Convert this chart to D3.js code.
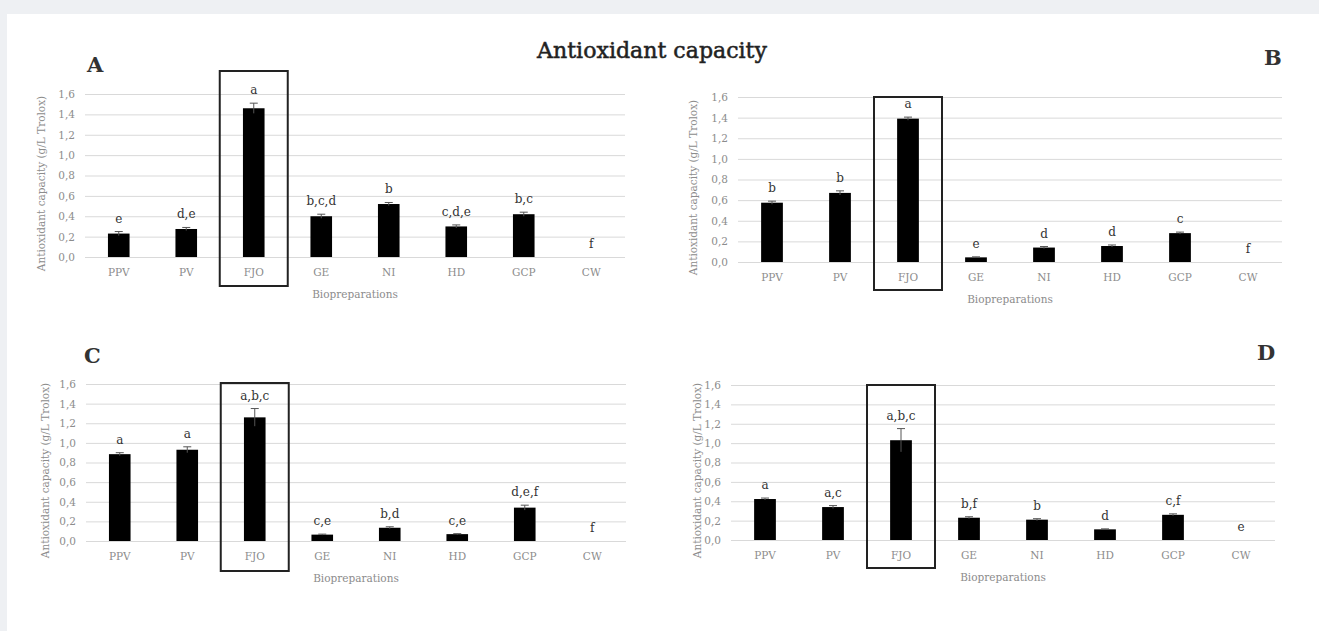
<!DOCTYPE html>
<meta charset="utf-8">
<style>
  body { margin: 0; background: #eef0f3; }
  svg { display: block; }
  text { font-family: "DejaVu Serif", serif; }
  .grid line { stroke: #d9d9d9; }
  .tick text { fill: #8c8c8c; font-size: 10.5px; }
  .ytitle, .xtitle { fill: #8c8c8c; font-size: 10.5px; }
  .sig { fill: #333; font-size: 12px; }
  .plabel { fill: #333; font-size: 21px; font-weight: bold; }
</style>
<body></body>
<script src="https://cdnjs.cloudflare.com/ajax/libs/d3/7.8.5/d3.min.js"></script>
<script>

// data
const categories = ["PPV", "PV", "FJO", "GE", "NI", "HD", "GCP", "CW"];
const yTicks = [0, 0.2, 0.4, 0.6, 0.8, 1.0, 1.2, 1.4, 1.6];

const valuesA = [0.23, 0.275, 1.46, 0.40, 0.52, 0.30, 0.42, 0];
const errA    = [0.02, 0.015, 0.05, 0.02, 0.015, 0.015, 0.02, 0];
const lettersA = ["e", "d,e", "a", "b,c,d", "b", "c,d,e", "b,c", "f"];

const valuesB = [0.575, 0.67, 1.39, 0.045, 0.14, 0.155, 0.28, 0];
const errB    = [0.015, 0.02, 0.015, 0.005, 0.01, 0.01, 0.01, 0];
const lettersB = ["b", "b", "a", "e", "d", "d", "c", "f"];

const valuesC = [0.885, 0.93, 1.26, 0.065, 0.135, 0.07, 0.34, 0];
const errC    = [0.015, 0.03, 0.09, 0.005, 0.01, 0.005, 0.025, 0];
const lettersC = ["a", "a", "a,b,c", "c,e", "b,d", "c,e", "d,e,f", "f"];

const valuesD = [0.423, 0.34, 1.03, 0.23, 0.21, 0.11, 0.26, 0];
const errD    = [0.01, 0.015, 0.12, 0.01, 0.01, 0.005, 0.01, 0];
const lettersD = ["a", "a,c", "a,b,c", "b,f", "b", "d", "c,f", "e"];

const highlighted = "FJO";

const W = 1319, H = 631;

var svg = d3.select("body").append("svg")
    .attr("width", W)
    .attr("height", H);

svg.append("rect")
    .attr("x", 7).attr("y", 14)
    .attr("width", W - 7).attr("height", H - 14)
    .attr("fill", "#fff");

var title = svg.append("text")
    .attr("x", 652).attr("y", 58)
    .attr("text-anchor", "middle")
    .attr("fill", "#222")
    .attr("stroke", "#222")
    .attr("stroke-width", 0.5)
    .style("font-size", "19px")
    .text("Antioxidant capacity");
// fit the title to the width it has in the figure
var tl = title.node().getComputedTextLength();
title.style("font-size", (19 * 230 / tl) + "px");

var comma = d3.formatLocale({decimal: ",", thousands: ".", grouping: [3], currency: ["", ""]}).format(".1f");

// panel placement
var panels = [
  {name: "A", values: valuesA, err: errA, letters: lettersA,
   x0: 85, x1: 625, y0: 257, y1: 94, boxTop: 71, boxBot: 286,
   lx: 87, ly: 72, ytx: 41},
  {name: "B", values: valuesB, err: errB, letters: lettersB,
   x0: 738, x1: 1282, y0: 262, y1: 97, boxTop: 97, boxBot: 290,
   lx: 1264, ly: 65, ytx: 693},
  {name: "C", values: valuesC, err: errC, letters: lettersC,
   x0: 86, x1: 626, y0: 541, y1: 384, boxTop: 383, boxBot: 571,
   lx: 84, ly: 363, ytx: 45},
  {name: "D", values: valuesD, err: errD, letters: lettersD,
   x0: 731, x1: 1275, y0: 540, y1: 385, boxTop: 385, boxBot: 568,
   lx: 1257, ly: 360, ytx: 697}
];

panels.forEach(function(p) {
  var g = svg.append("g");

  var x = d3.scaleBand()
      .domain(categories)
      .range([p.x0, p.x1])
      .paddingInner(0.68)
      .paddingOuter(0.34);

  var y = d3.scaleLinear()
      .domain([0, 1.6])
      .range([p.y0, p.y1]);

  // gridlines + y labels
  var ya = g.append("g")
      .attr("class", "grid")
      .attr("transform", "translate(" + p.x0 + ",0)")
      .call(d3.axisLeft(y)
          .tickValues(yTicks)
          .tickFormat(comma)
          .tickSize(-(p.x1 - p.x0))
          .tickPadding(10));
  ya.select(".domain").remove();

  // category labels
  var xa = g.append("g")
      .attr("transform", "translate(0," + p.y0 + ")")
      .call(d3.axisBottom(x).tickSize(0).tickPadding(12));
  xa.select(".domain").remove();

  // bars
  g.selectAll(".bar")
    .data(categories)
    .enter().append("rect")
      .attr("x", d => x(d))
      .attr("width", x.bandwidth())
      .attr("y", (d, i) => y(p.values[i]))
      .attr("height", (d, i) => p.y0 - y(p.values[i]))
      .attr("fill", "#000");

  // error bars
  var eb = g.selectAll(".err")
    .data(categories.filter((d, i) => p.err[i] > 0))
    .enter().append("g")
      .attr("stroke", "#555")
      .attr("stroke-width", 1);
  eb.append("line")
      .attr("x1", d => x(d) + x.bandwidth() / 2)
      .attr("x2", d => x(d) + x.bandwidth() / 2)
      .attr("y1", d => { var i = categories.indexOf(d); return y(p.values[i] - p.err[i]); })
      .attr("y2", d => { var i = categories.indexOf(d); return y(p.values[i] + p.err[i]); });
  eb.append("line")
      .attr("x1", d => x(d) + x.bandwidth() / 2 - 4)
      .attr("x2", d => x(d) + x.bandwidth() / 2 + 4)
      .attr("y1", d => { var i = categories.indexOf(d); return y(p.values[i] + p.err[i]); })
      .attr("y2", d => { var i = categories.indexOf(d); return y(p.values[i] + p.err[i]); });

  // significance letters
  g.selectAll(".sig")
    .data(categories)
    .enter().append("text")
      .attr("class", "sig")
      .attr("text-anchor", "middle")
      .attr("x", d => x(d) + x.bandwidth() / 2)
      .attr("y", (d, i) => y(p.values[i] + p.err[i]) - 9)
      .text((d, i) => p.letters[i]);

  // box around highlighted preparation
  g.append("rect")
      .attr("x", x(highlighted) + x.bandwidth() / 2 - 34)
      .attr("width", 68)
      .attr("y", p.boxTop)
      .attr("height", p.boxBot - p.boxTop)
      .attr("fill", "none")
      .attr("stroke", "#222")
      .attr("stroke-width", 2);

  // axis titles
  g.append("text")
      .attr("class", "xtitle")
      .attr("text-anchor", "middle")
      .attr("x", (p.x0 + p.x1) / 2)
      .attr("y", p.y0 + 41)
      .text("Biopreparations");

  g.append("text")
      .attr("class", "ytitle")
      .attr("text-anchor", "middle")
      .attr("transform", "translate(" + (p.ytx + 4) + "," + ((p.y0 + p.y1) / 2 + 8) + ") rotate(-90)")
      .text("Antioxidant capacity (g/L Trolox)");

  g.append("text")
      .attr("class", "plabel")
      .attr("x", p.lx)
      .attr("y", p.ly)
      .text(p.name);
});

</script>
